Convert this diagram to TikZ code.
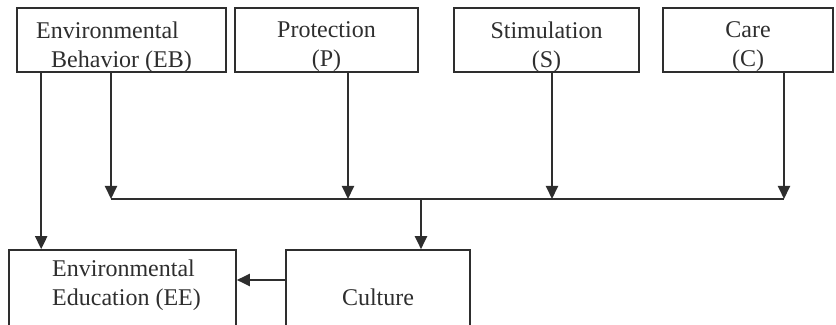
\documentclass[tikz,border=0pt]{standalone}
\usepackage{fontspec}
\setmainfont{Liberation Serif}
\usepackage{tikz}
\usetikzlibrary{arrows.meta,positioning,calc}
\definecolor{ink}{HTML}{2E2E2E}

\tikzset{
    box/.style={draw=ink, line width=0.8pt, inner sep=0pt, minimum height=32pt},
    txt/.style={align=center, inner sep=0pt, text=ink, font=\fontsize{12}{14.5}\selectfont},
    link/.style={-{Triangle[length=6.5pt,width=6pt]}, draw=ink, line width=1pt}
}

\begin{document}
\begin{tikzpicture}[x=0.5pt, y=0.5pt]
    \useasboundingbox (0,0) rectangle (836,-325);

    % Boîtes du haut
    \node[box, minimum width=104.5pt, label={[txt, yshift=-3.5pt]center:Environmental\hspace*{14pt}\\Behavior (EB)}] (eb) at (121.5,-40) {};
    \node[box, minimum width=91.5pt, label={[txt, yshift=-3.5pt]center:Protection\\(P)}] (p) at (326.5,-40) {};
    \node[box, minimum width=92.5pt, label={[txt, yshift=-3.5pt]center:Stimulation\\(S)}] (s) at (546.5,-40) {};
    \node[box, minimum width=85pt, label={[txt, yshift=-3.5pt]center:Care\\(C)}] (c) at (748,-40) {};

    % Boîtes du bas
    \node[box, minimum width=113.5pt, minimum height=50pt, label={[txt, align=left, xshift=2pt, yshift=7.5pt]center:Environmental\\Education (EE)}] (ee) at (122.5,-300) {};
    \node[box, minimum width=92pt, minimum height=50pt, label={[txt, yshift=1.5pt]center:Culture}] (cul) at (378,-300) {};

    % Flèches vers le bus
    \foreach \n/\x [count=\i] in {eb/111, p/348, s/552, c/784} {
        \coordinate (b\i) at (\x,-199);
        \draw[link] (\n.south -| b\i) -- (b\i);
    }
    \draw[ink, line width=1pt] (b1) -- (b4);
    \coordinate (bm) at (421,-199);

    % Liaisons vers le bas
    \draw[link] ([xshift=12.5pt]eb.south west) -- ([xshift=12.5pt]eb.south west |- ee.north);
    \draw[link] (bm) -- (bm |- cul.north);
    \draw[link] ([yshift=10pt]cul.west) -- ([yshift=10pt]cul.west -| ee.east);
\end{tikzpicture}
\end{document}
